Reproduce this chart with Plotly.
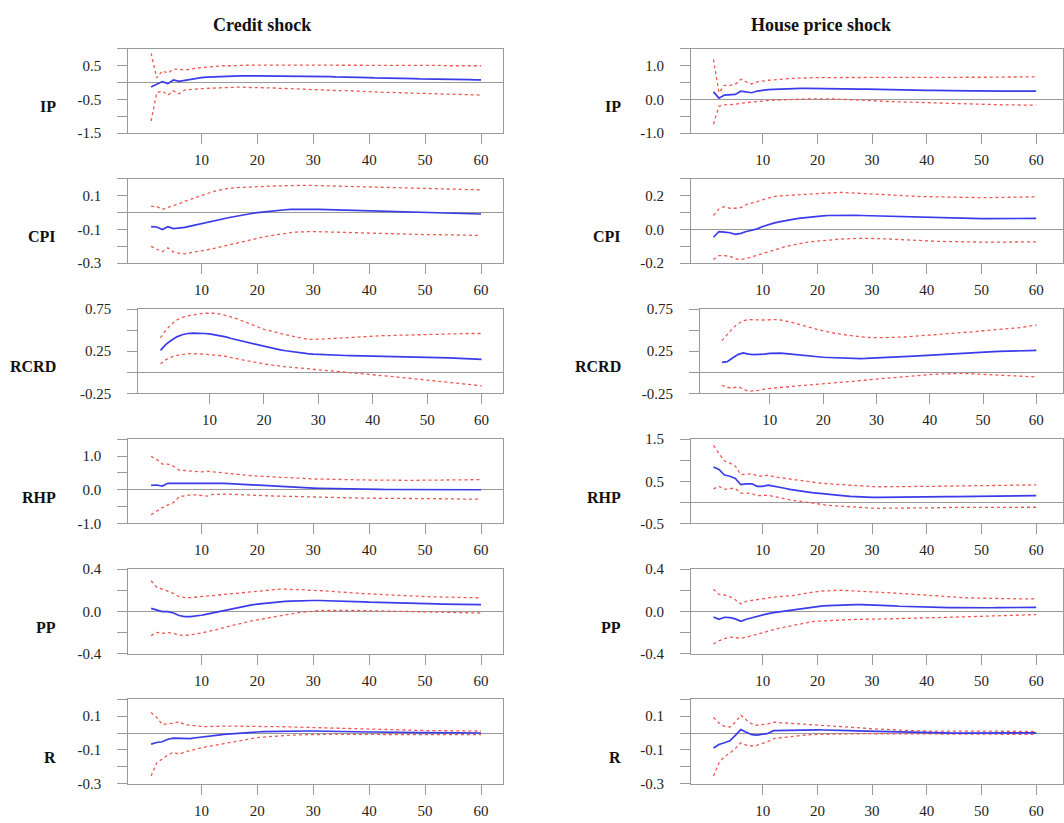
import plotly.graph_objects as go

W, H = 1064, 823

horizon = list(range(1, 61))

# ---------------- Credit shock ----------------
credit_ip_med = [-0.13, -0.06, 0.03, -0.03, 0.08, 0.04, 0.07, 0.11, 0.12, 0.15,
                 0.16, 0.17, 0.18, 0.18, 0.19, 0.19, 0.20, 0.20, 0.20, 0.20,
                 0.20, 0.20, 0.20, 0.20, 0.20, 0.20, 0.20, 0.19, 0.19, 0.19,
                 0.18, 0.18, 0.18, 0.17, 0.17, 0.16, 0.16, 0.16, 0.15, 0.15,
                 0.14, 0.14, 0.14, 0.13, 0.13, 0.12, 0.12, 0.12, 0.11, 0.11,
                 0.11, 0.10, 0.10, 0.10, 0.09, 0.09, 0.09, 0.09, 0.08, 0.08]
credit_ip_hi = [0.87, 0.14, 0.35, 0.28, 0.40, 0.40, 0.37, 0.40, 0.42, 0.45,
                0.46, 0.48, 0.49, 0.50, 0.50, 0.51, 0.51, 0.52, 0.52, 0.52,
                0.52, 0.53, 0.53, 0.53, 0.53, 0.53, 0.53, 0.53, 0.53, 0.53,
                0.53, 0.53, 0.53, 0.53, 0.53, 0.52, 0.52, 0.52, 0.52, 0.52,
                0.52, 0.52, 0.52, 0.52, 0.51, 0.51, 0.51, 0.51, 0.51, 0.51,
                0.51, 0.51, 0.51, 0.50, 0.50, 0.50, 0.50, 0.50, 0.50, 0.50]
credit_ip_lo = [-1.14, -0.30, -0.25, -0.37, -0.24, -0.33, -0.22, -0.20, -0.19, -0.18,
                -0.17, -0.16, -0.15, -0.14, -0.13, -0.12, -0.13, -0.14, -0.14, -0.15,
                -0.15, -0.16, -0.16, -0.17, -0.17, -0.18, -0.19, -0.19, -0.20, -0.21,
                -0.21, -0.22, -0.22, -0.23, -0.24, -0.24, -0.25, -0.26, -0.26, -0.27,
                -0.28, -0.28, -0.29, -0.29, -0.30, -0.30, -0.31, -0.31, -0.32, -0.32,
                -0.33, -0.33, -0.34, -0.34, -0.35, -0.35, -0.35, -0.36, -0.36, -0.37]

credit_cpi_med = [-0.083, -0.085, -0.100, -0.083, -0.095, -0.092, -0.087, -0.080, -0.072, -0.064,
                  -0.057, -0.050, -0.043, -0.036, -0.029, -0.022, -0.016, -0.010, -0.005, 0.000,
                  0.004, 0.008, 0.011, 0.014, 0.017, 0.019, 0.020, 0.021, 0.021, 0.020,
                  0.019, 0.018, 0.017, 0.016, 0.015, 0.013, 0.012, 0.011, 0.009, 0.008,
                  0.007, 0.006, 0.005, 0.004, 0.003, 0.002, 0.001, 0.000, -0.001, -0.002,
                  -0.003, -0.003, -0.004, -0.005, -0.005, -0.006, -0.006, -0.007, -0.007, -0.008]
credit_cpi_hi = [0.037, 0.037, 0.019, 0.033, 0.043, 0.052, 0.068, 0.078, 0.090, 0.100,
                 0.112, 0.124, 0.132, 0.139, 0.145, 0.148, 0.150, 0.152, 0.154, 0.155,
                 0.156, 0.157, 0.158, 0.159, 0.160, 0.161, 0.162, 0.164, 0.162, 0.161,
                 0.160, 0.159, 0.158, 0.157, 0.156, 0.156, 0.155, 0.154, 0.154, 0.153,
                 0.152, 0.151, 0.150, 0.149, 0.148, 0.147, 0.146, 0.145, 0.144, 0.143,
                 0.142, 0.141, 0.140, 0.139, 0.138, 0.138, 0.137, 0.136, 0.136, 0.135]
credit_cpi_lo = [-0.200, -0.215, -0.232, -0.209, -0.234, -0.240, -0.244, -0.238, -0.233, -0.228,
                 -0.221, -0.214, -0.206, -0.198, -0.190, -0.182, -0.174, -0.166, -0.158, -0.151,
                 -0.145, -0.139, -0.133, -0.127, -0.122, -0.118, -0.115, -0.113, -0.112, -0.112,
                 -0.113, -0.114, -0.116, -0.117, -0.118, -0.119, -0.120, -0.121, -0.123, -0.124,
                 -0.125, -0.125, -0.126, -0.126, -0.127, -0.127, -0.128, -0.129, -0.129, -0.130,
                 -0.130, -0.131, -0.131, -0.132, -0.132, -0.133, -0.133, -0.134, -0.134, -0.135]

credit_rcrd_med = [0.26, 0.33, 0.38, 0.42, 0.445, 0.46, 0.465, 0.465, 0.46, 0.455,
                   0.445, 0.435, 0.42, 0.40, 0.385, 0.37, 0.355, 0.34, 0.32, 0.305,
                   0.29, 0.28, 0.265, 0.255, 0.245, 0.235, 0.228, 0.222, 0.216, 0.212,
                   0.208, 0.205, 0.203, 0.201, 0.199, 0.197, 0.196, 0.195, 0.194, 0.193,
                   0.192, 0.191, 0.19, 0.189, 0.188, 0.186, 0.185, 0.183, 0.181, 0.179,
                   0.177, 0.175, 0.172, 0.170, 0.167, 0.165, 0.162, 0.159, 0.156, 0.153]
credit_rcrd_hi = [0.41, 0.50, 0.57, 0.62, 0.65, 0.67, 0.68, 0.69, 0.70, 0.70,
                  0.70, 0.69, 0.675, 0.655, 0.635, 0.61, 0.585, 0.56, 0.535, 0.51,
                  0.495, 0.475, 0.46, 0.445, 0.43, 0.415, 0.40, 0.39, 0.39, 0.39,
                  0.395, 0.40, 0.40, 0.405, 0.41, 0.41, 0.415, 0.42, 0.425, 0.43,
                  0.43, 0.435, 0.435, 0.44, 0.44, 0.44, 0.445, 0.445, 0.445, 0.45,
                  0.45, 0.45, 0.455, 0.455, 0.455, 0.46, 0.46, 0.46, 0.46, 0.46]
credit_rcrd_lo = [0.10, 0.15, 0.18, 0.20, 0.21, 0.22, 0.22, 0.22, 0.215, 0.21,
                  0.205, 0.20, 0.19, 0.175, 0.16, 0.15, 0.135, 0.125, 0.11, 0.10,
                  0.09, 0.08, 0.07, 0.065, 0.06, 0.053, 0.047, 0.04, 0.035, 0.03,
                  0.025, 0.019, 0.012, 0.006, 0.001, -0.005, -0.011, -0.018, -0.024, -0.03,
                  -0.035, -0.041, -0.047, -0.053, -0.06, -0.066, -0.071, -0.077, -0.084, -0.09,
                  -0.097, -0.103, -0.110, -0.117, -0.124, -0.131, -0.139, -0.146, -0.153, -0.16]

credit_rhp_med = [0.13, 0.14, 0.11, 0.19, 0.19, 0.19, 0.20, 0.21, 0.20, 0.20,
                  0.20, 0.20, 0.20, 0.19, 0.18, 0.17, 0.16, 0.15, 0.14, 0.13,
                  0.12, 0.11, 0.10, 0.095, 0.09, 0.08, 0.07, 0.065, 0.055, 0.05,
                  0.045, 0.04, 0.035, 0.03, 0.025, 0.02, 0.018, 0.015, 0.012, 0.01,
                  0.01, 0.009, 0.008, 0.008, 0.007, 0.007, 0.006, 0.006, 0.005, 0.005,
                  0.005, 0.004, 0.004, 0.003, 0.003, 0.002, 0.002, 0.001, 0.001, 0.0]
credit_rhp_hi = [0.99, 0.90, 0.76, 0.76, 0.70, 0.58, 0.57, 0.55, 0.54, 0.53,
                 0.55, 0.53, 0.52, 0.51, 0.49, 0.47, 0.45, 0.43, 0.415, 0.40,
                 0.395, 0.39, 0.38, 0.375, 0.37, 0.36, 0.35, 0.34, 0.33, 0.32,
                 0.315, 0.31, 0.305, 0.30, 0.30, 0.295, 0.295, 0.29, 0.29, 0.29,
                 0.285, 0.285, 0.28, 0.28, 0.28, 0.28, 0.28, 0.28, 0.28, 0.28,
                 0.28, 0.28, 0.285, 0.285, 0.29, 0.29, 0.29, 0.295, 0.30, 0.30]
credit_rhp_lo = [-0.74, -0.63, -0.53, -0.45, -0.38, -0.21, -0.17, -0.15, -0.15, -0.17,
                 -0.19, -0.14, -0.13, -0.13, -0.13, -0.14, -0.15, -0.16, -0.165, -0.17,
                 -0.175, -0.18, -0.185, -0.19, -0.20, -0.205, -0.21, -0.21, -0.215, -0.22,
                 -0.225, -0.23, -0.23, -0.235, -0.24, -0.24, -0.245, -0.245, -0.25, -0.25,
                 -0.25, -0.255, -0.255, -0.255, -0.26, -0.26, -0.26, -0.26, -0.26, -0.26,
                 -0.265, -0.265, -0.27, -0.27, -0.27, -0.275, -0.275, -0.28, -0.28, -0.28]

credit_pp_med = [0.028, 0.016, -0.003, -0.003, -0.016, -0.040, -0.050, -0.050, -0.047, -0.037,
                 -0.027, -0.016, -0.003, 0.010, 0.022, 0.032, 0.042, 0.052, 0.061, 0.069,
                 0.075, 0.080, 0.085, 0.089, 0.094, 0.097, 0.100, 0.102, 0.103, 0.103,
                 0.103, 0.102, 0.101, 0.100, 0.098, 0.096, 0.094, 0.092, 0.090, 0.087,
                 0.085, 0.083, 0.082, 0.080, 0.079, 0.077, 0.076, 0.075, 0.074, 0.072,
                 0.071, 0.070, 0.069, 0.068, 0.067, 0.066, 0.065, 0.065, 0.064, 0.063]
credit_pp_hi = [0.29, 0.23, 0.21, 0.19, 0.17, 0.14, 0.13, 0.13, 0.135, 0.14,
                0.145, 0.15, 0.155, 0.16, 0.165, 0.17, 0.18, 0.185, 0.19, 0.195,
                0.20, 0.205, 0.205, 0.21, 0.21, 0.21, 0.21, 0.205, 0.20, 0.20,
                0.195, 0.195, 0.19, 0.185, 0.18, 0.178, 0.175, 0.172, 0.168, 0.165,
                0.162, 0.159, 0.156, 0.153, 0.150, 0.148, 0.146, 0.144, 0.142, 0.140,
                0.138, 0.137, 0.136, 0.135, 0.134, 0.133, 0.132, 0.131, 0.130, 0.128]
credit_pp_lo = [-0.23, -0.20, -0.21, -0.20, -0.21, -0.225, -0.23, -0.225, -0.215, -0.205,
                -0.195, -0.185, -0.17, -0.155, -0.14, -0.128, -0.115, -0.102, -0.09, -0.08,
                -0.07, -0.06, -0.05, -0.04, -0.03, -0.022, -0.015, -0.008, -0.002, 0.003,
                0.006, 0.008, 0.009, 0.010, 0.010, 0.010, 0.009, 0.008, 0.007, 0.006,
                0.005, 0.004, 0.003, 0.002, 0.001, 0.0, -0.002, -0.003, -0.004, -0.005,
                -0.006, -0.007, -0.008, -0.009, -0.010, -0.011, -0.012, -0.013, -0.014, -0.016]

credit_r_med = [-0.066, -0.056, -0.052, -0.037, -0.030, -0.031, -0.035, -0.033, -0.028, -0.023,
                -0.019, -0.015, -0.012, -0.008, -0.005, -0.002, 0.000, 0.003, 0.005, 0.006,
                0.008, 0.009, 0.010, 0.011, 0.012, 0.012, 0.012, 0.012, 0.012, 0.012,
                0.011, 0.011, 0.010, 0.010, 0.009, 0.009, 0.008, 0.008, 0.007, 0.006,
                0.006, 0.005, 0.005, 0.004, 0.004, 0.003, 0.003, 0.003, 0.002, 0.002,
                0.002, 0.002, 0.001, 0.001, 0.001, 0.001, 0.000, 0.000, 0.000, 0.000]
credit_r_hi = [0.122, 0.093, 0.050, 0.056, 0.057, 0.068, 0.050, 0.045, 0.041, 0.039,
               0.038, 0.040, 0.041, 0.041, 0.041, 0.041, 0.041, 0.040, 0.040, 0.040,
               0.039, 0.039, 0.038, 0.038, 0.037, 0.036, 0.035, 0.034, 0.033, 0.031,
               0.030, 0.029, 0.028, 0.027, 0.026, 0.025, 0.024, 0.023, 0.022, 0.021,
               0.020, 0.019, 0.019, 0.018, 0.017, 0.017, 0.016, 0.016, 0.015, 0.015,
               0.014, 0.014, 0.014, 0.013, 0.013, 0.013, 0.012, 0.012, 0.012, 0.012]
credit_r_lo = [-0.255, -0.178, -0.153, -0.130, -0.114, -0.126, -0.112, -0.104, -0.094, -0.085,
               -0.080, -0.075, -0.069, -0.063, -0.058, -0.051, -0.044, -0.037, -0.031, -0.027,
               -0.024, -0.021, -0.019, -0.017, -0.015, -0.013, -0.011, -0.010, -0.009, -0.008,
               -0.007, -0.007, -0.007, -0.007, -0.008, -0.008, -0.008, -0.008, -0.008, -0.008,
               -0.009, -0.009, -0.009, -0.009, -0.009, -0.010, -0.010, -0.010, -0.010, -0.010,
               -0.010, -0.010, -0.010, -0.010, -0.010, -0.010, -0.010, -0.010, -0.010, -0.010]

# ---------------- House price shock ----------------
house_ip_med = [0.225, 0.04, 0.13, 0.14, 0.15, 0.245, 0.23, 0.20, 0.25, 0.275,
                0.29, 0.30, 0.31, 0.315, 0.32, 0.325, 0.33, 0.33, 0.33, 0.33,
                0.33, 0.33, 0.33, 0.325, 0.32, 0.32, 0.315, 0.31, 0.305, 0.30,
                0.30, 0.295, 0.29, 0.29, 0.285, 0.28, 0.28, 0.275, 0.275, 0.27,
                0.27, 0.265, 0.265, 0.26, 0.26, 0.26, 0.255, 0.255, 0.255, 0.25,
                0.25, 0.25, 0.25, 0.25, 0.25, 0.25, 0.25, 0.25, 0.25, 0.25]
house_ip_hi = [1.19, 0.20, 0.42, 0.42, 0.45, 0.60, 0.52, 0.46, 0.52, 0.55,
               0.57, 0.58, 0.60, 0.61, 0.62, 0.63, 0.64, 0.64, 0.65, 0.65,
               0.65, 0.65, 0.65, 0.65, 0.65, 0.65, 0.65, 0.645, 0.645, 0.645,
               0.645, 0.645, 0.645, 0.64, 0.64, 0.64, 0.64, 0.64, 0.64, 0.64,
               0.645, 0.645, 0.65, 0.65, 0.65, 0.655, 0.655, 0.655, 0.66, 0.66,
               0.66, 0.66, 0.665, 0.665, 0.665, 0.67, 0.67, 0.67, 0.67, 0.67]
house_ip_lo = [-0.73, -0.20, -0.16, -0.16, -0.14, -0.11, -0.09, -0.085, -0.06, -0.04,
               -0.03, -0.02, -0.01, -0.005, 0.0, 0.005, 0.01, 0.015, 0.02, 0.02,
               0.02, 0.02, 0.015, 0.01, 0.005, 0.0, -0.01, -0.02, -0.03, -0.04,
               -0.045, -0.05, -0.06, -0.065, -0.07, -0.08, -0.085, -0.09, -0.10, -0.11,
               -0.115, -0.12, -0.125, -0.13, -0.135, -0.14, -0.14, -0.145, -0.145, -0.15,
               -0.15, -0.155, -0.155, -0.16, -0.16, -0.165, -0.165, -0.17, -0.17, -0.17]

house_cpi_med = [-0.046, -0.012, -0.015, -0.019, -0.029, -0.023, -0.012, -0.004, 0.004, 0.018,
                 0.029, 0.038, 0.045, 0.052, 0.058, 0.063, 0.068, 0.072, 0.076, 0.079,
                 0.081, 0.083, 0.084, 0.085, 0.085, 0.085, 0.084, 0.083, 0.082, 0.080,
                 0.079, 0.078, 0.077, 0.076, 0.075, 0.074, 0.073, 0.072, 0.071, 0.070,
                 0.069, 0.068, 0.068, 0.067, 0.066, 0.066, 0.065, 0.065, 0.064, 0.064,
                 0.064, 0.064, 0.064, 0.064, 0.065, 0.065, 0.065, 0.065, 0.066, 0.066]
house_cpi_hi = [0.083, 0.122, 0.135, 0.126, 0.126, 0.130, 0.148, 0.158, 0.166, 0.178,
                0.188, 0.195, 0.199, 0.201, 0.203, 0.205, 0.208, 0.210, 0.212, 0.213,
                0.215, 0.217, 0.218, 0.220, 0.219, 0.217, 0.215, 0.213, 0.211, 0.209,
                0.207, 0.205, 0.203, 0.201, 0.199, 0.198, 0.197, 0.196, 0.195, 0.195,
                0.194, 0.194, 0.193, 0.192, 0.191, 0.190, 0.190, 0.190, 0.189, 0.189,
                0.189, 0.190, 0.190, 0.191, 0.191, 0.192, 0.192, 0.192, 0.193, 0.193]
house_cpi_lo = [-0.178, -0.155, -0.155, -0.159, -0.174, -0.178, -0.172, -0.162, -0.150, -0.139,
                -0.130, -0.120, -0.111, -0.103, -0.095, -0.088, -0.082, -0.076, -0.072, -0.068,
                -0.065, -0.062, -0.060, -0.057, -0.055, -0.054, -0.053, -0.052, -0.052, -0.052,
                -0.053, -0.054, -0.056, -0.058, -0.060, -0.062, -0.063, -0.065, -0.066, -0.068,
                -0.069, -0.070, -0.071, -0.072, -0.073, -0.074, -0.074, -0.075, -0.075, -0.075,
                -0.075, -0.075, -0.075, -0.074, -0.074, -0.074, -0.074, -0.073, -0.073, -0.073]

house_rcrd_med = [0.118, 0.126, 0.17, 0.21, 0.23, 0.215, 0.21, 0.21, 0.215, 0.225,
                  0.23, 0.228, 0.222, 0.215, 0.208, 0.200, 0.194, 0.188, 0.183, 0.178,
                  0.175, 0.172, 0.169, 0.166, 0.164, 0.163, 0.163, 0.164, 0.166, 0.168,
                  0.171, 0.174, 0.177, 0.180, 0.184, 0.188, 0.192, 0.196, 0.200, 0.204,
                  0.208, 0.212, 0.216, 0.220, 0.224, 0.228, 0.232, 0.235, 0.238, 0.241,
                  0.243, 0.245, 0.247, 0.249, 0.251, 0.253, 0.255, 0.256, 0.258, 0.259]
house_rcrd_hi = [0.375, 0.446, 0.52, 0.575, 0.61, 0.625, 0.62, 0.62, 0.62, 0.625,
                 0.625, 0.62, 0.61, 0.595, 0.575, 0.56, 0.54, 0.525, 0.505, 0.49,
                 0.475, 0.465, 0.455, 0.445, 0.435, 0.425, 0.42, 0.415, 0.41, 0.41,
                 0.41, 0.41, 0.412, 0.415, 0.418, 0.422, 0.426, 0.43, 0.435, 0.44,
                 0.445, 0.45, 0.455, 0.46, 0.465, 0.47, 0.475, 0.48, 0.485, 0.49,
                 0.495, 0.50, 0.505, 0.51, 0.515, 0.52, 0.53, 0.54, 0.55, 0.56]
house_rcrd_lo = [-0.154, -0.18, -0.186, -0.17, -0.20, -0.225, -0.22, -0.215, -0.20, -0.19,
                 -0.185, -0.18, -0.175, -0.17, -0.165, -0.16, -0.155, -0.15, -0.145, -0.14,
                 -0.135, -0.13, -0.124, -0.118, -0.112, -0.106, -0.10, -0.094, -0.088, -0.082,
                 -0.076, -0.07, -0.064, -0.058, -0.052, -0.046, -0.041, -0.036, -0.031, -0.027,
                 -0.023, -0.02, -0.017, -0.015, -0.014, -0.014, -0.015, -0.017, -0.02, -0.023,
                 -0.026, -0.03, -0.033, -0.037, -0.04, -0.043, -0.046, -0.049, -0.052, -0.055]

house_rhp_med = [0.84, 0.78, 0.65, 0.62, 0.57, 0.42, 0.44, 0.44, 0.38, 0.38,
                 0.41, 0.38, 0.36, 0.335, 0.31, 0.285, 0.265, 0.25, 0.23, 0.215,
                 0.2, 0.19, 0.18, 0.17, 0.155, 0.145, 0.135, 0.13, 0.125, 0.12,
                 0.12, 0.12, 0.12, 0.12, 0.12, 0.12, 0.122, 0.124, 0.126, 0.128,
                 0.13, 0.132, 0.134, 0.136, 0.138, 0.14, 0.142, 0.144, 0.146, 0.148,
                 0.15, 0.151, 0.152, 0.153, 0.154, 0.155, 0.156, 0.157, 0.158, 0.16]
house_rhp_hi = [1.35, 1.17, 0.98, 0.93, 0.86, 0.66, 0.67, 0.68, 0.63, 0.62,
                0.65, 0.61, 0.59, 0.57, 0.55, 0.53, 0.51, 0.495, 0.48, 0.465,
                0.45, 0.44, 0.43, 0.42, 0.41, 0.40, 0.39, 0.385, 0.38, 0.375,
                0.37, 0.37, 0.37, 0.37, 0.37, 0.37, 0.375, 0.375, 0.375, 0.38,
                0.38, 0.38, 0.385, 0.385, 0.39, 0.39, 0.39, 0.395, 0.395, 0.40,
                0.40, 0.40, 0.40, 0.405, 0.405, 0.41, 0.41, 0.41, 0.415, 0.415]
house_rhp_lo = [0.32, 0.38, 0.31, 0.33, 0.33, 0.22, 0.22, 0.21, 0.16, 0.16,
                0.17, 0.14, 0.12, 0.09, 0.06, 0.04, 0.02, 0.0, -0.02, -0.04,
                -0.055, -0.07, -0.08, -0.09, -0.10, -0.11, -0.12, -0.125, -0.13, -0.135,
                -0.14, -0.14, -0.14, -0.14, -0.135, -0.135, -0.135, -0.13, -0.13, -0.13,
                -0.125, -0.125, -0.125, -0.12, -0.12, -0.12, -0.12, -0.12, -0.115, -0.115,
                -0.115, -0.115, -0.115, -0.115, -0.115, -0.115, -0.115, -0.115, -0.115, -0.115]

house_pp_med = [-0.053, -0.075, -0.056, -0.060, -0.072, -0.094, -0.075, -0.060, -0.045, -0.033,
                -0.022, -0.012, -0.005, 0.002, 0.008, 0.016, 0.025, 0.034, 0.042, 0.047,
                0.051, 0.055, 0.058, 0.060, 0.062, 0.063, 0.063, 0.063, 0.062, 0.060,
                0.058, 0.056, 0.054, 0.051, 0.048, 0.046, 0.044, 0.042, 0.040, 0.039,
                0.038, 0.037, 0.036, 0.035, 0.035, 0.034, 0.034, 0.034, 0.034, 0.034,
                0.034, 0.034, 0.035, 0.035, 0.035, 0.036, 0.036, 0.037, 0.037, 0.038]
house_pp_hi = [0.21, 0.16, 0.155, 0.14, 0.11, 0.07, 0.095, 0.105, 0.115, 0.122,
               0.128, 0.135, 0.14, 0.143, 0.148, 0.152, 0.165, 0.175, 0.182, 0.188,
               0.193, 0.197, 0.2, 0.2, 0.198, 0.196, 0.194, 0.192, 0.19, 0.188,
               0.185, 0.182, 0.179, 0.175, 0.171, 0.167, 0.163, 0.159, 0.155, 0.151,
               0.148, 0.145, 0.142, 0.138, 0.135, 0.132, 0.129, 0.127, 0.125, 0.124,
               0.123, 0.122, 0.121, 0.12, 0.12, 0.119, 0.119, 0.119, 0.119, 0.119]
house_pp_lo = [-0.31, -0.28, -0.26, -0.245, -0.25, -0.256, -0.245, -0.23, -0.213, -0.2,
               -0.185, -0.17, -0.16, -0.15, -0.14, -0.128, -0.115, -0.105, -0.098, -0.094,
               -0.09, -0.087, -0.085, -0.082, -0.08, -0.078, -0.076, -0.075, -0.074, -0.073,
               -0.072, -0.072, -0.071, -0.07, -0.069, -0.068, -0.067, -0.066, -0.065, -0.063,
               -0.062, -0.061, -0.06, -0.058, -0.057, -0.055, -0.053, -0.051, -0.049, -0.047,
               -0.045, -0.043, -0.041, -0.039, -0.038, -0.036, -0.035, -0.034, -0.032, -0.031]

house_r_med = [-0.089, -0.068, -0.058, -0.046, -0.014, 0.021, 0.005, -0.010, -0.012, -0.006,
               -0.002, 0.014, 0.015, 0.016, 0.017, 0.018, 0.019, 0.019, 0.019, 0.019,
               0.018, 0.018, 0.017, 0.016, 0.015, 0.014, 0.013, 0.012, 0.011, 0.010,
               0.009, 0.008, 0.007, 0.006, 0.005, 0.004, 0.003, 0.002, 0.001, 0.000,
               0.000, 0.000, -0.001, -0.001, -0.001, -0.001, -0.001, 0.000, 0.000, 0.000,
               0.000, 0.000, 0.000, 0.001, 0.001, 0.001, 0.001, 0.001, 0.001, 0.001]
house_r_hi = [0.093, 0.060, 0.040, 0.035, 0.064, 0.106, 0.077, 0.054, 0.046, 0.050,
              0.055, 0.064, 0.062, 0.060, 0.058, 0.056, 0.055, 0.053, 0.051, 0.050,
              0.048, 0.046, 0.044, 0.042, 0.039, 0.037, 0.034, 0.031, 0.028, 0.025,
              0.023, 0.021, 0.019, 0.017, 0.016, 0.015, 0.014, 0.013, 0.012, 0.012,
              0.011, 0.011, 0.010, 0.010, 0.009, 0.009, 0.009, 0.008, 0.008, 0.008,
              0.008, 0.008, 0.009, 0.009, 0.009, 0.009, 0.010, 0.010, 0.010, 0.010]
house_r_lo = [-0.255, -0.178, -0.139, -0.120, -0.091, -0.058, -0.072, -0.077, -0.072, -0.062,
              -0.050, -0.033, -0.029, -0.025, -0.019, -0.016, -0.013, -0.011, -0.009, -0.008,
              -0.007, -0.006, -0.005, -0.005, -0.004, -0.004, -0.004, -0.004, -0.004, -0.004,
              -0.004, -0.004, -0.004, -0.004, -0.005, -0.005, -0.005, -0.005, -0.005, -0.005,
              -0.005, -0.006, -0.006, -0.006, -0.006, -0.007, -0.007, -0.007, -0.007, -0.007,
              -0.007, -0.007, -0.007, -0.008, -0.008, -0.008, -0.008, -0.008, -0.008, -0.008]

# Column titles, row variable names and x tick values
column_titles = ["Credit shock", "House price shock"]
variables = ["IP", "CPI", "RCRD", "RHP", "PP", "R"]
x_ticks = [10, 20, 30, 40, 50, 60]

credit = [(credit_ip_med, credit_ip_lo, credit_ip_hi),
          (credit_cpi_med, credit_cpi_lo, credit_cpi_hi),
          (credit_rcrd_med, credit_rcrd_lo, credit_rcrd_hi),
          (credit_rhp_med, credit_rhp_lo, credit_rhp_hi),
          (credit_pp_med, credit_pp_lo, credit_pp_hi),
          (credit_r_med, credit_r_lo, credit_r_hi)]
house = [(house_ip_med, house_ip_lo, house_ip_hi),
         (house_cpi_med, house_cpi_lo, house_cpi_hi),
         (house_rcrd_med, house_rcrd_lo, house_rcrd_hi),
         (house_rhp_med, house_rhp_lo, house_rhp_hi),
         (house_pp_med, house_pp_lo, house_pp_hi),
         (house_r_med, house_r_lo, house_r_hi)]

# y axis: (range, tick values, labelled values) for each panel
credit_y = [([-1.5, 1.0], [-1.5, -1.0, -0.5, 0.0, 0.5, 1.0], {-1.5: "-1.5", -0.5: "-0.5", 0.5: "0.5"}),
            ([-0.3, 0.2], [-0.3, -0.2, -0.1, 0.0, 0.1, 0.2], {-0.3: "-0.3", -0.1: "-0.1", 0.1: "0.1"}),
            ([-0.25, 0.75], [-0.25, 0.0, 0.25, 0.5, 0.75], {-0.25: "-0.25", 0.25: "0.25", 0.75: "0.75"}),
            ([-1.0, 1.5], [-1.0, -0.5, 0.0, 0.5, 1.0, 1.5], {-1.0: "-1.0", 0.0: "0.0", 1.0: "1.0"}),
            ([-0.4, 0.4], [-0.4, -0.2, 0.0, 0.2, 0.4], {-0.4: "-0.4", 0.0: "0.0", 0.4: "0.4"}),
            ([-0.3, 0.2], [-0.3, -0.2, -0.1, 0.0, 0.1, 0.2], {-0.3: "-0.3", -0.1: "-0.1", 0.1: "0.1"})]
house_y = [([-1.0, 1.5], [-1.0, -0.5, 0.0, 0.5, 1.0, 1.5], {-1.0: "-1.0", 0.0: "0.0", 1.0: "1.0"}),
           ([-0.2, 0.3], [-0.2, -0.1, 0.0, 0.1, 0.2, 0.3], {-0.2: "-0.2", 0.0: "0.0", 0.2: "0.2"}),
           ([-0.25, 0.75], [-0.25, 0.0, 0.25, 0.5, 0.75], {-0.25: "-0.25", 0.25: "0.25", 0.75: "0.75"}),
           ([-0.5, 1.5], [-0.5, 0.0, 0.5, 1.0, 1.5], {-0.5: "-0.5", 0.5: "0.5", 1.5: "1.5"}),
           ([-0.4, 0.4], [-0.4, -0.2, 0.0, 0.2, 0.4], {-0.4: "-0.4", 0.0: "0.0", 0.4: "0.4"}),
           ([-0.3, 0.2], [-0.3, -0.2, -0.1, 0.0, 0.1, 0.2], {-0.3: "-0.3", -0.1: "-0.1", 0.1: "0.1"})]

# ---------------- layout geometry (pixels) ----------------
row_tops = [41.7, 174.3, 307.0, 439.7, 572.3, 705.0]
row_h = 86.0
# plot-area left/right edges and x range per column: (normal rows, RCRD row)
col_x = [
    ((128.3, 503.3), (138.3, 503.3)),
    ((691.7, 1064.0), (700.7, 1064.0)),
]
col_xrange = [([-3.1, 63.9], [-3.1, 63.9]),
              ([-3.1, 64.9], [-3.1, 65.0])]
label_right = [58, 624]
title_x = [262, 822]

AXIS_GRAY = "#9a9a9a"
TEXT = "#222222"
SERIF = "Liberation Serif, Times New Roman, serif"
BLUE = "#3b3bea"
RED = "#f0564f"


def px_x(v):
    return v / W


def px_y(v):
    return 1 - v / H


fig = go.Figure()
layout = dict(
    width=W, height=H, autosize=False,
    margin=dict(l=0, r=0, t=0, b=0),
    paper_bgcolor="white", plot_bgcolor="white",
    showlegend=False,
    font=dict(family=SERIF, size=15, color=TEXT),
)
annotations = []

idx = 0
for c, (panels, yspecs) in enumerate([(credit, credit_y), (house, house_y)]):
    annotations.append(dict(
        text="<b>%s</b>" % column_titles[c], x=px_x(title_x[c]), y=px_y(17),
        xref="paper", yref="paper", xanchor="center", yanchor="middle",
        showarrow=False, font=dict(family=SERIF, size=18, color="#111111")))
    for r in range(6):
        idx += 1
        xa = "x" if idx == 1 else "x%d" % idx
        ya = "y" if idx == 1 else "y%d" % idx
        med, lo, hi = panels[r]
        for series, color, dash, width in [(hi, RED, "dot", 1.3), (lo, RED, "dot", 1.3),
                                           (med, BLUE, "solid", 1.7)]:
            fig.add_trace(go.Scatter(x=horizon, y=series, mode="lines", xaxis=xa, yaxis=ya,
                                     line=dict(color=color, dash=dash, width=width),
                                     hoverinfo="skip"))
        left, right = col_x[c][1] if r == 2 else col_x[c][0]
        xr = col_xrange[c][1] if r == 2 else col_xrange[c][0]
        top = row_tops[r]
        bot = top + row_h
        yr, yt, ylab = yspecs[r]
        axis_common = dict(showline=True, linecolor=AXIS_GRAY, linewidth=1, mirror=True,
                           ticks="outside", ticklen=10, tickcolor=AXIS_GRAY, tickwidth=1,
                           showgrid=False, tickfont=dict(family=SERIF, size=15, color=TEXT))
        layout["xaxis" if idx == 1 else "xaxis%d" % idx] = dict(
            domain=[px_x(left), px_x(right)], range=xr, anchor=ya,
            tickvals=x_ticks, ticktext=[str(t) for t in x_ticks], zeroline=False,
            ticklabelstandoff=3, **axis_common)
        layout["yaxis" if idx == 1 else "yaxis%d" % idx] = dict(
            domain=[px_y(bot), px_y(top)], range=yr, anchor=xa,
            tickvals=yt, ticktext=[ylab.get(v, "") for v in yt],
            zeroline=True, zerolinecolor=AXIS_GRAY, zerolinewidth=1,
            ticklabelstandoff=13, **axis_common)
        annotations.append(dict(
            text="<b>%s</b>" % variables[r], x=px_x(label_right[c]), y=px_y(top + row_h / 2 + 16),
            xref="paper", yref="paper", xanchor="right", yanchor="middle",
            showarrow=False, font=dict(family=SERIF, size=16, color="#111111")))

layout["annotations"] = annotations
fig.update_layout(**layout)
fig.write_html("out.html")
